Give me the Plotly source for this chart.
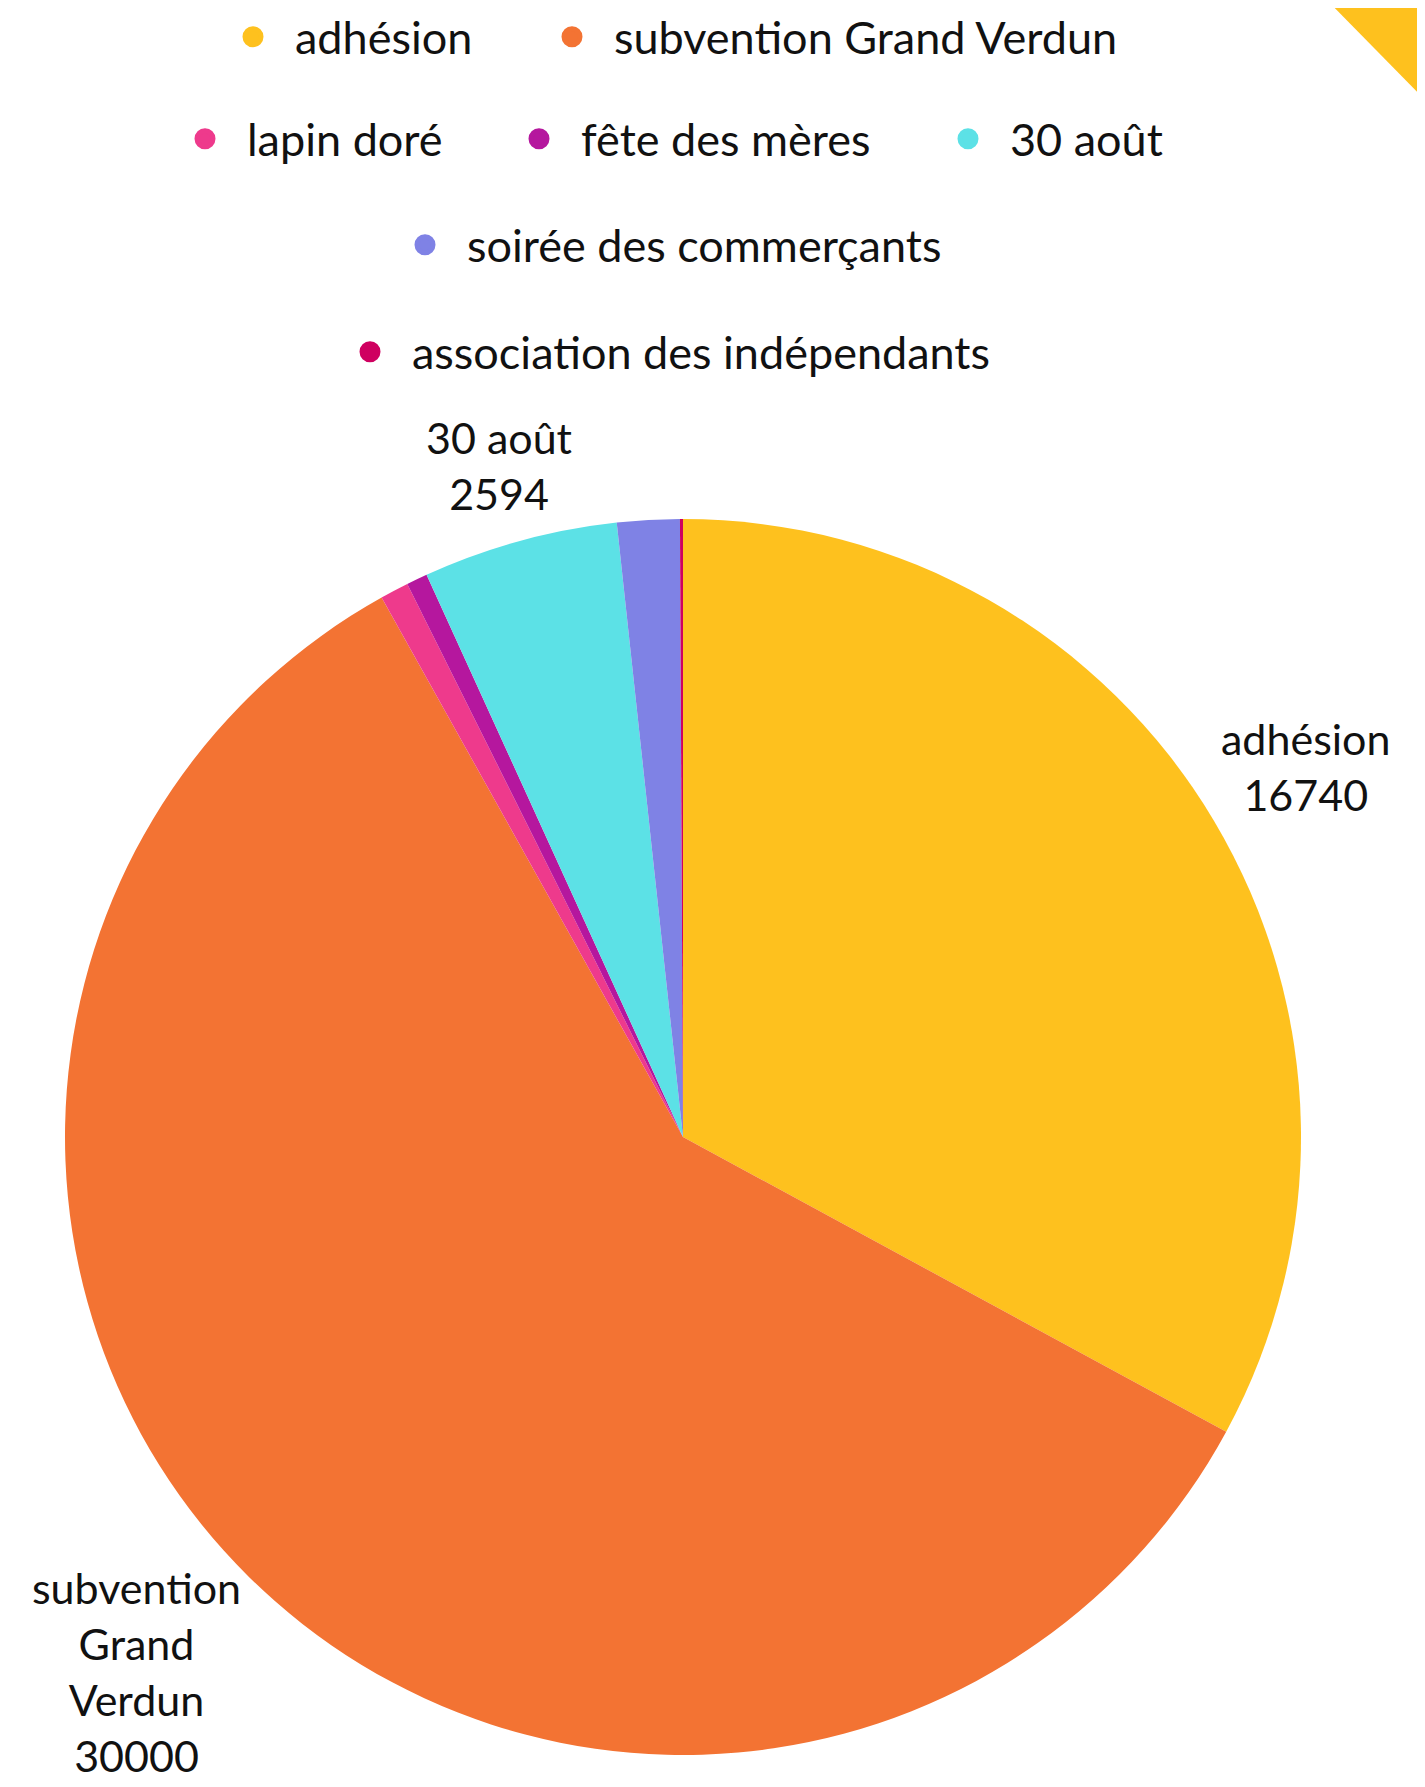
import math
import plotly.graph_objects as go

# ---- data ----
categories = ["adhésion", "subvention Grand Verdun", "lapin doré", "fête des mères",
              "30 août", "soirée des commerçants", "association des indépendants"]
values = [16740, 30000, 380, 280, 2594, 830, 40]

# ---- styles / layout ----
colors = ["#FEC11E", "#F37333", "#EE3A8C", "#B5179E", "#5CE1E6", "#7F82E5", "#CF0060"]
# the page body adds an 8px offset, so the figure is 8px smaller than the window
W, H = 1417, 1779
# legend entry symbol centres, in figure pixels (x, y from top)
legend_pos_px = [(245, 29), (564, 29), (197, 131), (531, 131), (960, 131), (417, 237), (362, 344)]
PIE_CX, PIE_CY, PIE_R = 675, 1129, 618   # pie centre / radius in figure pixels
FONT = "Lato, 'Noto Sans', sans-serif"
FS_LEG = 45
FS_LAB = 43
ITEMW = 74  # legend symbol slot; symbol centre sits (ITEMW+10)/2 px from entry start
LABEL_MIN_SHARE = 0.03


def wrap(label, width=10):
    lines, cur = [], ""
    for w in label.split():
        if cur and len(cur) + 1 + len(w) > width:
            lines.append(cur)
            cur = w
        else:
            cur = (cur + " " + w).strip()
    lines.append(cur)
    return lines


fig = go.Figure()
fig.add_trace(go.Pie(
    labels=categories,
    values=values,
    textinfo="none",
    marker=dict(colors=colors, line=dict(width=0)),
    sort=False,
    direction="clockwise",
    rotation=0,
    showlegend=False,
    domain=dict(x=[(PIE_CX - PIE_R) / W, (PIE_CX + PIE_R) / W],
                y=[1 - (PIE_CY + PIE_R) / H, 1 - (PIE_CY - PIE_R) / H]),
    hovertemplate="%{label}: %{value}<extra></extra>",
))

# outside labels for the larger slices, placed on each slice's mid-angle ray
total = sum(values)
annotations = []
cum = 0.0
for c, v in zip(categories, values):
    mid = 2 * math.pi * (cum + v / 2) / total
    cum += v
    if v / total < LABEL_MIN_SHARE:
        continue
    lines = wrap(c) + [str(v)]
    w = max(len(s) for s in lines) * 0.5 * FS_LAB
    h = len(lines) * 1.3 * FS_LAB
    ux, uy = math.sin(mid), -math.cos(mid)
    dist = PIE_R + 4 + abs(ux) * w / 2 + abs(uy) * h / 2
    px = PIE_CX + ux * dist
    py = PIE_CY + uy * dist
    px = min(max(px, w / 2 + 4), W - w / 2 - 4)
    py = min(max(py, h / 2 + 4), H - h / 2 - 4)
    annotations.append(dict(
        x=px / W, y=1 - py / H, xref="paper", yref="paper",
        xanchor="center", yanchor="middle", showarrow=False, align="center",
        text="<br>".join(lines),
        font=dict(family=FONT, size=FS_LAB, color="#111111"),
    ))

legend_layout = {}
for i, (c, col, (px, py)) in enumerate(zip(categories, colors, legend_pos_px)):
    lid = "legend" if i == 0 else f"legend{i + 1}"
    fig.add_trace(go.Scatter(
        x=[None], y=[None], mode="markers", name=c,
        marker=dict(symbol="circle", size=16, color=col, line=dict(width=5, color=col)),
        legend=lid, showlegend=True, hoverinfo="skip",
    ))
    legend_layout[lid] = dict(
        orientation="h", xanchor="left", yanchor="middle",
        x=(px - (ITEMW + 10) / 2) / W, y=1 - py / H,
        font=dict(family=FONT, size=FS_LEG, color="#111111"),
        bgcolor="rgba(0,0,0,0)", borderwidth=0, itemwidth=ITEMW,
        itemclick=False, itemdoubleclick=False,
    )

fig.update_layout(
    width=W, height=H, autosize=False,
    margin=dict(l=0, r=0, t=0, b=0, pad=0, autoexpand=False),
    paper_bgcolor="white", plot_bgcolor="white",
    font=dict(family=FONT, size=FS_LEG, color="#111111"),
    xaxis=dict(visible=False), yaxis=dict(visible=False),
    annotations=annotations,
    shapes=[dict(type="path", xref="paper", yref="paper",
                 path="M 0.9363 1 L 1 1 L 1 0.9483 Z",
                 fillcolor=colors[0], line=dict(width=0), layer="above")],
    **legend_layout,
)

fig.write_html("out.html")
